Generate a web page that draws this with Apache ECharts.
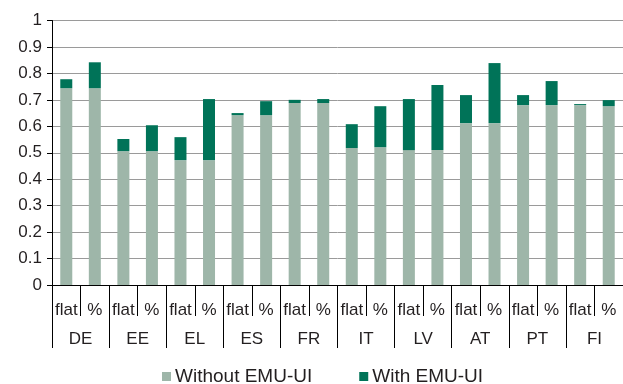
<!DOCTYPE html>
<html>
<head>
<meta charset="utf-8">
<script src="https://cdn.jsdelivr.net/npm/echarts@6/dist/echarts.min.js"></script>
<style>
  html, body { margin: 0; padding: 0; background: #fff; }
  #chart { width: 623px; height: 384px; }
</style>
</head>
<body>
<div id="chart"></div>
<script>
// Countries, each shown under a flat-rate and a percentage variant
const countries = ['DE', 'EE', 'EL', 'ES', 'FR', 'IT', 'LV', 'AT', 'PT', 'FI'];
const variants = ['flat', '%'];

// Replacement rate without the EMU unemployment insurance (per country: flat, %)
const withoutEmuUi = [
  0.744, 0.744,
  0.506, 0.506,
  0.472, 0.472,
  0.642, 0.642,
  0.688, 0.688,
  0.518, 0.521,
  0.510, 0.510,
  0.612, 0.612,
  0.680, 0.680,
  0.680, 0.676
];

// Total replacement rate with the EMU unemployment insurance
const withEmuUiTotal = [
  0.778, 0.842,
  0.552, 0.604,
  0.559, 0.703,
  0.650, 0.695,
  0.700, 0.703,
  0.608, 0.676,
  0.703, 0.756,
  0.718, 0.839,
  0.718, 0.771,
  0.684, 0.699
];

const yTicks = [0, 0.1, 0.2, 0.3, 0.4, 0.5, 0.6, 0.7, 0.8, 0.9, 1];

const subCategories = [];
countries.forEach(() => variants.forEach(v => subCategories.push(v)));

// Stacked increment contributed by the EMU-UI
const emuUiIncrement = withEmuUiTotal.map((t, i) => +(t - withoutEmuUi[i]).toFixed(3));

const FONT = 'Liberation Sans, Arial, Helvetica, sans-serif';
const TEXT = '#231f20';

const chart = echarts.init(document.getElementById('chart'), null, { renderer: 'canvas' });
chart.setOption({
  animation: false,
  backgroundColor: '#ffffff',
  textStyle: { fontFamily: FONT, color: TEXT },
  grid: { left: 52, right: 0, top: 20.5, bottom: 99, containLabel: false },
  legend: {
    left: 157,
    top: 362,
    itemWidth: 9,
    itemHeight: 9,
    itemGap: 47,
    icon: 'rect',
    textStyle: { fontFamily: FONT, fontSize: 19, color: TEXT, padding: [0, 0, 0, -1] },
    data: ['Without EMU-UI', 'With EMU-UI']
  },
  xAxis: [
    {
      type: 'category',
      data: subCategories,
      position: 'bottom',
      axisLine: { show: true, lineStyle: { color: '#000', width: 1 } },
      axisTick: { show: true, length: 31, interval: 0, alignWithLabel: false, lineStyle: { color: '#000' } },
      axisLabel: { interval: 0, margin: 17, fontSize: 17, color: TEXT, fontFamily: FONT },
      splitLine: { show: false }
    },
    {
      type: 'category',
      data: countries,
      position: 'bottom',
      axisLine: { show: false },
      axisTick: { show: true, length: 63, interval: 0, alignWithLabel: false, lineStyle: { color: '#000' } },
      axisLabel: { interval: 0, margin: 46, fontSize: 17, color: TEXT, fontFamily: FONT },
      splitLine: { show: false }
    }
  ],
  yAxis: {
    type: 'value',
    min: yTicks[0],
    max: yTicks[yTicks.length - 1],
    interval: 0.1,
    axisLine: { show: true, lineStyle: { color: '#000', width: 1 } },
    axisTick: { show: true, length: 5, lineStyle: { color: '#000' } },
    axisLabel: {
      margin: 10,
      fontSize: 17,
      color: TEXT,
      fontFamily: FONT,
      formatter: v => {
        const r = Math.round(v * 10) / 10;
        return yTicks.includes(r) ? String(r) : '';
      }
    },
    splitLine: { show: true, lineStyle: { color: '#9a9a9a', width: 1 } }
  },
  series: [
    {
      name: 'Without EMU-UI',
      type: 'bar',
      stack: 'rate',
      xAxisIndex: 0,
      barWidth: 12,
      itemStyle: { color: '#9eb6a9' },
      data: withoutEmuUi
    },
    {
      name: 'With EMU-UI',
      type: 'bar',
      stack: 'rate',
      xAxisIndex: 0,
      barWidth: 12,
      itemStyle: { color: '#007358' },
      data: emuUiIncrement
    }
  ]
});
</script>
</body>
</html>
